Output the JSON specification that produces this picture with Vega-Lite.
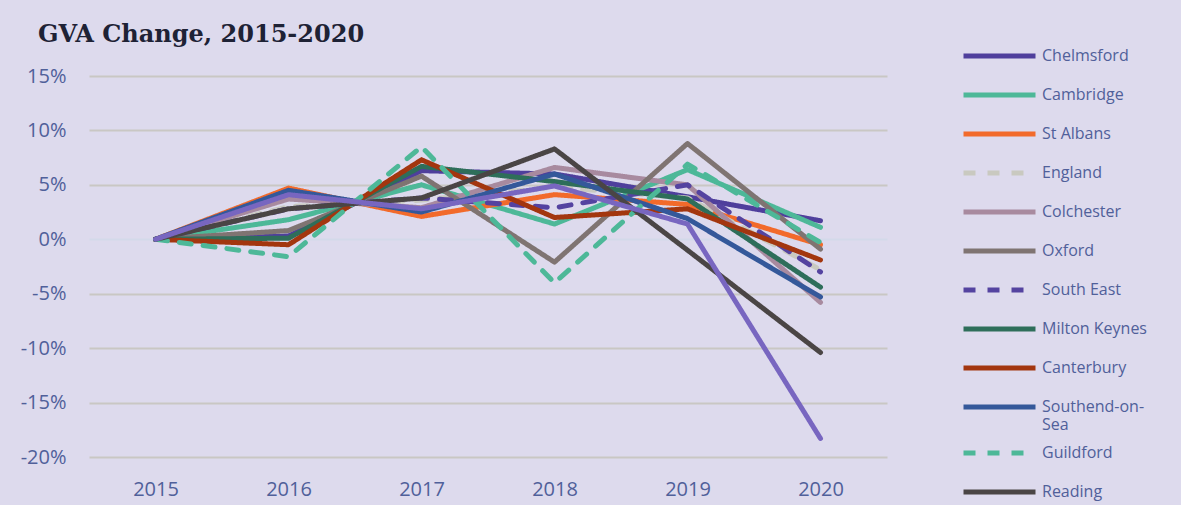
{
  "$schema": "https://vega.github.io/schema/vega-lite/v6.json",
  "width": 798,
  "height": 381,
  "autosize": {"type": "none"},
  "padding": {"left": 89, "top": 76, "right": 294, "bottom": 48},
  "background": "#dddaed",
  "title": {"text": "GVA Change, 2015-2020", "anchor": "start", "frame": "group", "font": "DejaVu Serif", "fontSize": 24, "fontWeight": "bold", "color": "#1e2235", "dx": -51, "offset": 30, "dy": 40.5},
  "config": {"view": {"stroke": null}},
  "data": {"values": [
    {"area": "Chelmsford", "year": "2015", "value": 0}, {"area": "Chelmsford", "year": "2016", "value": 0.3}, {"area": "Chelmsford", "year": "2017", "value": 6.3}, {"area": "Chelmsford", "year": "2018", "value": 6.0}, {"area": "Chelmsford", "year": "2019", "value": 3.9}, {"area": "Chelmsford", "year": "2020", "value": 1.7},
    {"area": "Cambridge", "year": "2015", "value": 0}, {"area": "Cambridge", "year": "2016", "value": 1.8}, {"area": "Cambridge", "year": "2017", "value": 5.0}, {"area": "Cambridge", "year": "2018", "value": 1.4}, {"area": "Cambridge", "year": "2019", "value": 6.4}, {"area": "Cambridge", "year": "2020", "value": 1.1},
    {"area": "St Albans", "year": "2015", "value": 0}, {"area": "St Albans", "year": "2016", "value": 4.7}, {"area": "St Albans", "year": "2017", "value": 2.1}, {"area": "St Albans", "year": "2018", "value": 4.1}, {"area": "St Albans", "year": "2019", "value": 3.2}, {"area": "St Albans", "year": "2020", "value": -0.5},
    {"area": "England", "year": "2015", "value": 0}, {"area": "England", "year": "2016", "value": 3.0}, {"area": "England", "year": "2017", "value": 3.6}, {"area": "England", "year": "2018", "value": 4.8}, {"area": "England", "year": "2019", "value": 3.8}, {"area": "England", "year": "2020", "value": -2.8},
    {"area": "Colchester", "year": "2015", "value": 0}, {"area": "Colchester", "year": "2016", "value": 3.7}, {"area": "Colchester", "year": "2017", "value": 2.9}, {"area": "Colchester", "year": "2018", "value": 6.6}, {"area": "Colchester", "year": "2019", "value": 5.0}, {"area": "Colchester", "year": "2020", "value": -5.8},
    {"area": "Oxford", "year": "2015", "value": 0}, {"area": "Oxford", "year": "2016", "value": 0.8}, {"area": "Oxford", "year": "2017", "value": 5.8}, {"area": "Oxford", "year": "2018", "value": -2.1}, {"area": "Oxford", "year": "2019", "value": 8.8}, {"area": "Oxford", "year": "2020", "value": -0.9},
    {"area": "South East", "year": "2015", "value": 0}, {"area": "South East", "year": "2016", "value": 2.8}, {"area": "South East", "year": "2017", "value": 3.8}, {"area": "South East", "year": "2018", "value": 2.9}, {"area": "South East", "year": "2019", "value": 5.0}, {"area": "South East", "year": "2020", "value": -3.0},
    {"area": "Milton Keynes", "year": "2015", "value": 0}, {"area": "Milton Keynes", "year": "2016", "value": 0.1}, {"area": "Milton Keynes", "year": "2017", "value": 6.7}, {"area": "Milton Keynes", "year": "2018", "value": 5.3}, {"area": "Milton Keynes", "year": "2019", "value": 3.7}, {"area": "Milton Keynes", "year": "2020", "value": -4.4},
    {"area": "Canterbury", "year": "2015", "value": 0}, {"area": "Canterbury", "year": "2016", "value": -0.5}, {"area": "Canterbury", "year": "2017", "value": 7.3}, {"area": "Canterbury", "year": "2018", "value": 2.0}, {"area": "Canterbury", "year": "2019", "value": 2.8}, {"area": "Canterbury", "year": "2020", "value": -1.9},
    {"area": "Southend-on-Sea", "year": "2015", "value": 0}, {"area": "Southend-on-Sea", "year": "2016", "value": 4.5}, {"area": "Southend-on-Sea", "year": "2017", "value": 2.5}, {"area": "Southend-on-Sea", "year": "2018", "value": 6.0}, {"area": "Southend-on-Sea", "year": "2019", "value": 1.9}, {"area": "Southend-on-Sea", "year": "2020", "value": -5.3},
    {"area": "Guildford", "year": "2015", "value": 0}, {"area": "Guildford", "year": "2016", "value": -1.6}, {"area": "Guildford", "year": "2017", "value": 8.5}, {"area": "Guildford", "year": "2018", "value": -4.0}, {"area": "Guildford", "year": "2019", "value": 6.9}, {"area": "Guildford", "year": "2020", "value": -0.3},
    {"area": "Reading", "year": "2015", "value": 0}, {"area": "Reading", "year": "2016", "value": 2.8}, {"area": "Reading", "year": "2017", "value": 3.8}, {"area": "Reading", "year": "2018", "value": 8.3}, {"area": "Reading", "year": "2019", "value": -1.0}, {"area": "Reading", "year": "2020", "value": -10.4},
    {"area": "Crawley", "year": "2015", "value": 0}, {"area": "Crawley", "year": "2016", "value": 4.1}, {"area": "Crawley", "year": "2017", "value": 2.8}, {"area": "Crawley", "year": "2018", "value": 4.9}, {"area": "Crawley", "year": "2019", "value": 1.4}, {"area": "Crawley", "year": "2020", "value": -18.3}
  ]},
  "mark": {"type": "line", "strokeWidth": 5, "strokeCap": "round", "strokeJoin": "round"},
  "encoding": {
    "x": {"field": "year", "type": "ordinal", "scale": {"type": "point", "padding": 0.5},
      "axis": {"title": null, "labelAngle": 0, "domain": false, "ticks": false, "labelFont": "Open Sans", "labelFontSize": 20, "labelColor": "#50609a", "labelPadding": 22}},
    "y": {"field": "value", "type": "quantitative", "scale": {"domain": [-20, 15], "nice": false},
      "axis": {"title": null, "values": [-20, -15, -10, -5, 0, 5, 10, 15], "labelExpr": "datum.value + '%'", "domain": false, "ticks": false, "labelFont": "Open Sans", "labelFontSize": 20, "labelColor": "#50609a", "labelPadding": 23,
        "gridColor": {"condition": {"test": "datum.value === 0", "value": "#d3d9ea"}, "value": "#c9c7c4"}, "gridWidth": 2}},
    "color": {"field": "area", "type": "nominal",
      "scale": {"domain": ["Chelmsford", "Cambridge", "St Albans", "England", "Colchester", "Oxford", "South East", "Milton Keynes", "Canterbury", "Southend-on-Sea", "Guildford", "Reading", "Crawley"],
        "range": ["#4f3f9c", "#4db898", "#f26a2b", "#c9c9c0", "#a88a9f", "#7f7472", "#5443a0", "#2e6e5a", "#a3360f", "#34589a", "#4db898", "#4a4545", "#7866c0"]},
      "legend": {"values": ["Chelmsford", "Cambridge", "St Albans", "England", "Colchester", "Oxford", "South East", "Milton Keynes", "Canterbury", "Southend-on-Sea", "Guildford", "Reading"],
        "title": null, "orient": "none", "legendX": 872, "legendY": -39.5, "symbolType": "stroke", "symbolSize": 5184, "symbolStrokeWidth": 5,
        "labelFont": "Open Sans", "labelFontSize": 16, "labelColor": "#50609a", "labelOffset": 4, "rowPadding": 0, "clipHeight": 38.8,
        "labelExpr": "datum.label == 'Southend-on-Sea' ? ['Southend-on-', 'Sea'] : datum.label"}},
    "strokeDash": {"field": "area", "type": "nominal",
      "scale": {"domain": ["Chelmsford", "Cambridge", "St Albans", "England", "Colchester", "Oxford", "South East", "Milton Keynes", "Canterbury", "Southend-on-Sea", "Guildford", "Reading", "Crawley"],
        "range": [[1, 0], [1, 0], [1, 0], [12, 12], [1, 0], [1, 0], [12, 12], [1, 0], [1, 0], [1, 0], [12, 12], [1, 0], [1, 0]]},
      "legend": {"values": ["Chelmsford", "Cambridge", "St Albans", "England", "Colchester", "Oxford", "South East", "Milton Keynes", "Canterbury", "Southend-on-Sea", "Guildford", "Reading"]}}
  }
}
